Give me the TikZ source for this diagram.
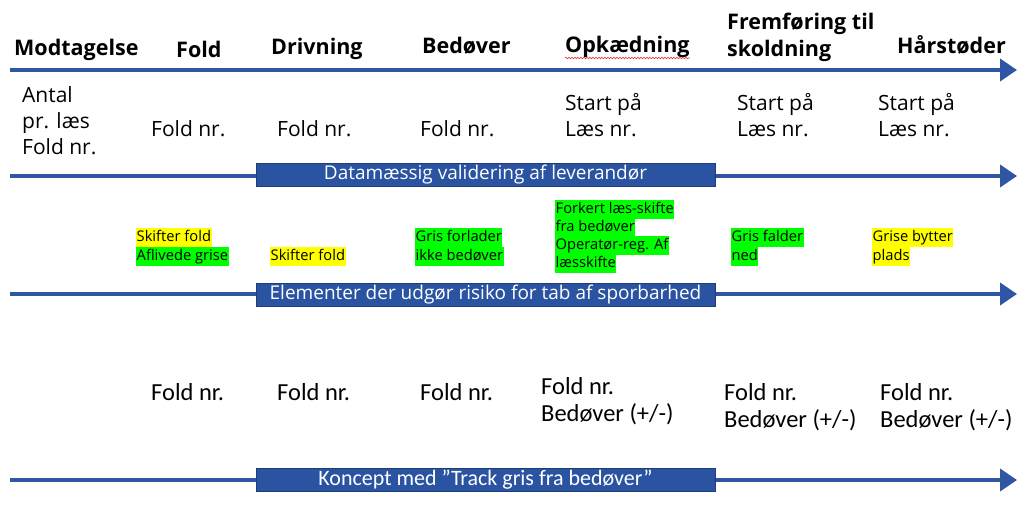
\documentclass[tikz,border=0pt]{standalone}
\usepackage{fontspec}
\setmainfont{Open Sans}
\newfontfamily\calib{Carlito}
\usetikzlibrary{arrows.meta,decorations.pathmorphing,calc}
\definecolor{lineblue}{HTML}{2F55A4}
\definecolor{boxblue}{HTML}{2A53A1}
\definecolor{boxedge}{HTML}{1F3C78}
\definecolor{hlyellow}{HTML}{FFFF00}
\definecolor{hlgreen}{HTML}{00FF00}
\definecolor{spellred}{HTML}{E03030}
\tikzset{
  flow/.style={draw=lineblue, line width=4pt, -{Triangle[length=17pt,width=22pt]}},
  bandbox/.style={draw=boxedge, line width=1pt, fill=boxblue, text=white, minimum width=459pt, minimum height=23pt, inner sep=0pt, font=\fontsize{19}{22}\selectfont},
  head/.style={font=\fontsize{21.5}{27}\bfseries\selectfont, inner sep=0pt, align=left, anchor=base west},
  cell/.style={font=\fontsize{21}{26}\selectfont, inner sep=0pt, align=left, anchor=base west},
  cellc/.style={font=\calib\fontsize{24.5}{26.5}\selectfont, inner sep=0pt, align=left, anchor=base west},
  hl/.style={font=\fontsize{14.7}{18}\selectfont, inner sep=0.5pt, text height=13pt, text depth=5pt, anchor=west},
  spell/.style={draw=spellred, line width=0.6pt, decorate, decoration={snake, amplitude=0.8pt, segment length=3pt}}
}
\begin{document}
\begin{tikzpicture}[x=1pt,y=-1pt]
\useasboundingbox (0,0) rectangle (1019,508);
% lines
\coordinate (l1a) at (10,70);  \coordinate (l1b) at (1017,70);
\coordinate (l2a) at (10,176); \coordinate (l2b) at (1017,176);
\coordinate (l3a) at (10,294); \coordinate (l3b) at (1017,294);
\coordinate (l4a) at (10,480); \coordinate (l4b) at (1017,480);
\draw[flow] (l1a) -- (l1b);
\draw[flow] (l2a) -- (l2b);
\draw[flow] (l3a) -- (l3b);
\draw[flow] (l4a) -- (l4b);
\node[bandbox] (b1) at (485.5,174.5) {Datamæssig validering af leverandør};
\node[bandbox] (b2) at (485.5,294.5) {Elementer der udgør risiko for tab af sporbarhed};
\node[bandbox, font=\calib\fontsize{22}{24}\selectfont] (b3) at (485.5,479.5) {Koncept med ”Track gris fra bedøver”};
% headers
\node[head] (h1) at (14,56) {Modtagelse};
\node[head] (h2) at (176,58) {Fold};
\node[head] (h3) at (271,55) {Drivning};
\node[head] (h4) at (422,54) {Bedøver};
\node[head] (h5) at (565,53) {Opkædning};
\node[head] (h6) at (727,57) {Fremføring til\\skoldning};
\node[head] (h7) at (897,54) {Hårstøder};
\coordinate (sp1a) at ($(h5.base west)+(0,5)$);
\coordinate (sp1b) at ($(h5.base east)+(0,5)$);
\draw[spell] (sp1a) -- (sp1b);
% row 1
\node[cell] (r1a) at (22,154) {Antal\\pr. læs\\Fold nr.};
\node[cell] (r1b) at (151,136) {Fold nr.};
\node[cell] (r1c) at (277,136) {Fold nr.};
\node[cell] (r1d) at (420,136) {Fold nr.};
\node[cell] (r1e) at (565,136) {Start på\\Læs nr.};
\node[cell] (r1f) at (737,136) {Start på\\Læs nr.};
\node[cell] (r1g) at (878,136) {Start på\\Læs nr.};
% row 2 highlighted
\node[hl, fill=hlyellow] (s1) at (136,237.5) {Skifter fold};
\node[hl, fill=hlgreen] (s2) at (136,256.5) {Aflivede grise};
\node[hl, fill=hlyellow] (s3) at (270,256.5) {Skifter fold};
\node[hl, fill=hlgreen] (s4) at (415,237.5) {Gris forlader};
\node[hl, fill=hlgreen] (s5) at (415,256.5) {ikke bedøver};
\node[hl, fill=hlgreen] (s6) at (555,209) {Forkert læs-skifte};
\node[hl, fill=hlgreen] (s7) at (555,227) {fra bedøver};
\node[hl, fill=hlgreen] (s8) at (555,245) {Operatør-reg. Af};
\node[hl, fill=hlgreen] (s9) at (555,263) {læsskifte};
\node[hl, fill=hlgreen] (s10) at (731,237.5) {Gris falder};
\node[hl, fill=hlgreen] (s11) at (731,256.5) {ned};
\node[hl, fill=hlyellow] (s12) at (872,237.5) {Grise bytter};
\node[hl, fill=hlyellow] (s13) at (872,256.5) {plads};
% row 3
\node[cellc] (r3b) at (151,400) {Fold nr.};
\node[cellc] (r3c) at (277,400) {Fold nr.};
\node[cellc] (r3d) at (420,400) {Fold nr.};
\node[cellc] (r3e) at (541,421) {Fold nr.\\Bedøver (+/-)};
\node[cellc] (r3f) at (724,427) {Fold nr.\\Bedøver (+/-)};
\node[cellc] (r3g) at (880,427) {Fold nr.\\Bedøver (+/-)};
\end{tikzpicture}
\end{document}
